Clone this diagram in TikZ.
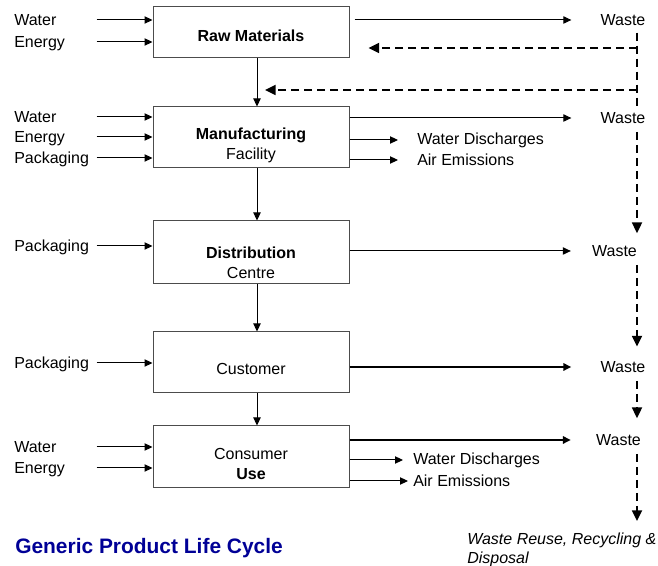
\documentclass[tikz,border=0pt]{standalone}
\usepackage{fontspec}
\setmainfont{Liberation Sans}
\usetikzlibrary{arrows.meta,positioning}
\definecolor{titleblue}{RGB}{0,0,150}
\begin{document}
\begin{tikzpicture}[x=.75pt,y=-.75pt,
    stage/.style={draw=black!70,line width=.75pt,minimum width=147pt,inner ysep=0pt,align=center,font=\fontsize{12}{15}\selectfont},
    txt/.style={inner sep=0pt,font=\fontsize{12}{15}\selectfont},
    inlbl/.style={txt,anchor=west,text width=61.5pt,text height=8.6pt,text depth=0pt},
    flow/.style={-{Triangle[length=6pt,width=5.5pt]},line width=.75pt},
    heavy/.style={flow,line width=1.4pt},
    dashes/.style={line width=1.3pt,dash pattern=on 6pt off 3.75pt},
    back/.style={dashes,-{Triangle[length=8pt,width=7.5pt]}}]
  \useasboundingbox (0,0) rectangle (658,566);

  \node[stage,minimum height=38.25pt,text height=13.3pt] (raw) at (251,32.5) {\textbf{Raw Materials}};
  \node[stage,minimum height=45.75pt,text height=35.8pt] (manuf) at (251,137.5) {\textbf{Manufacturing}\\Facility};
  \node[stage,minimum height=47.25pt,text height=38.8pt] (dist) at (251,252.5) {\textbf{Distribution}\\Centre};
  \node[stage,minimum height=45.75pt,text height=17.6pt] (cust) at (251,362.5) {Customer};
  \node[stage,minimum height=46.5pt,text height=34.3pt] (cons) at (251,457) {Consumer\\\textbf{Use}};

  \node[inlbl] (rw) at (14,20) {Water};
  \node[inlbl] (re) at (14,42) {Energy};
  \node[inlbl] (mw) at (14,117) {Water};
  \node[inlbl] (me) at (14,137) {Energy};
  \node[inlbl] (mp) at (14,158) {Packaging};
  \node[inlbl] (dp) at (14,246) {Packaging};
  \node[inlbl] (cp) at (14,363) {Packaging};
  \node[inlbl] (uw) at (14,447) {Water};
  \node[inlbl] (ue) at (14,468) {Energy};
  \foreach \l/\b in {rw/raw,re/raw,mw/manuf,me/manuf,mp/manuf,dp/dist,cp/cust,uw/cons,ue/cons}
    \draw[flow] (\l.east) -- (\l.east -| \b.west);

  \foreach \a/\b in {raw/manuf,manuf/dist,dist/cust,cust/cons}
    \draw[flow] ([xshift=4.5pt]\a.south) -- ([xshift=4.5pt]\b.north);

  \node[txt] (w1) at (623,20) {Waste};
  \node[txt] (w2) at (623,118) {Waste};
  \node[txt] (w3) at (614.5,251) {Waste};
  \node[txt] (w4) at (623,367) {Waste};
  \node[txt] (w5) at (618.5,440) {Waste};
  \draw[flow,shorten <=3.75pt,shorten >=21.75pt] (raw.east |- w1) -- (w1.west);
  \draw[flow,shorten >=21.75pt] (manuf.east |- w2) -- (w2.west);
  \draw[flow,shorten >=15.75pt] (dist.east |- w3) -- (w3.west);
  \draw[heavy,shorten >=21.75pt] (cust.east |- w4) -- (w4.west);
  \draw[heavy,shorten >=18.75pt] (cons.east |- w5) -- (w5.west);

  \node[txt,anchor=west] (mwd) at (417,140) {Water Discharges};
  \node[txt,anchor=west] (mae) at (417,160) {Air Emissions};
  \node[txt,anchor=west] (uwd) at (413,460) {Water Discharges};
  \node[txt,anchor=west] (uae) at (413,481) {Air Emissions};
  \draw[flow,shorten >=14.25pt] (manuf.east |- mwd) -- (mwd.west);
  \draw[flow,shorten >=14.25pt] (manuf.east |- mae) -- (mae.west);
  \draw[flow,shorten >=7.5pt] (cons.east |- uwd) -- (uwd.west);
  \draw[flow,shorten >=3.75pt] (cons.east |- uae) -- (uae.west);

  \node[txt,anchor=north west,align=left,font=\fontsize{12}{14.25}\selectfont\itshape] (reuse) at (467,533) {Waste Reuse, Recycling \&\\Disposal};
  \node[txt,anchor=west,font=\fontsize{15.7}{19}\selectfont\bfseries,text=titleblue] (title) at (15,548) {Generic Product Life Cycle};

  \coordinate (ret) at (637,0);
  \coordinate (k1) at (637,48);
  \coordinate (k2) at (637,90);
  \draw[back,shorten >=14.25pt] (k1) -- (raw.east |- k1);
  \draw[back,shorten >=6pt] (k2) -- ([xshift=4.5pt]raw.south |- k2);
  \draw[dashes,shorten <=5pt,shorten >=4pt] (w1.south -| ret) -- (w2.north -| ret);
  \draw[back,shorten <=6pt,shorten >=9pt] (w2.south -| ret) -- (w3.north -| ret);
  \draw[back,shorten <=6pt,shorten >=11pt] (w3.south -| ret) -- (w4.north -| ret);
  \draw[back,shorten <=6pt,shorten >=12pt] (w4.south -| ret) -- (w5.north -| ret);
  \draw[back,shorten <=6pt,shorten >=9pt] (w5.south -| ret) -- (reuse.north -| ret);
\end{tikzpicture}
\end{document}
